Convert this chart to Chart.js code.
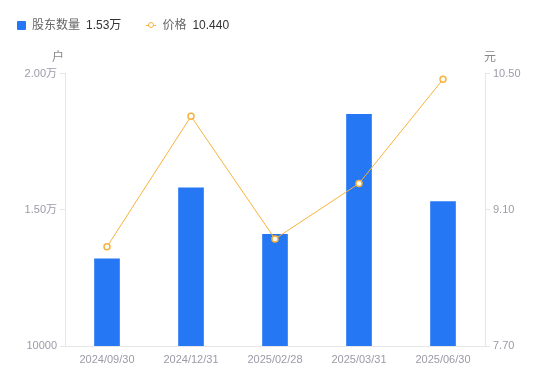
<!DOCTYPE html>
<html>
<head>
<meta charset="utf-8">
<script src="https://cdn.jsdelivr.net/npm/chart.js@4.4.1/dist/chart.umd.min.js"></script>
<style>
    html, body { margin: 0; padding: 0; background: #fff; }
    #wrap { position: relative; width: 550px; height: 381px; }
    #legend {
        position: absolute; left: 17px; top: 17px; height: 16px;
        display: flex; align-items: center;
        font: 12px/16px "Liberation Sans", "Noto Sans CJK SC", sans-serif;
    }
    .item { display: flex; align-items: center; height: 16px; margin-right: 25px; }
    .name, .val { display: block; height: 16px; line-height: 16px; }
    .name { color: #666; margin-right: 6px; }
    .val { color: #333; }
    .sq { width: 9px; height: 9px; background: #2677f4; border-radius: 1px; margin-right: 6px; }
    .ln { position: relative; width: 10px; height: 1px; background: #f7b23b; margin-right: 6px; }
    .ln::after {
        content: ''; position: absolute; left: 1.5px; top: -2.5px; width: 4px; height: 4px;
        border: 1.5px solid #f7b23b; border-radius: 50%; background: #fff;
    }
</style>
</head>
<body>
<div id="wrap">
    <div id="legend"></div>
    <canvas id="chart" width="550" height="381"></canvas>
</div>
<script>
// 数据
const dates = ['2024/09/30', '2024/12/31', '2025/02/28', '2025/03/31', '2025/06/30'];
const holders = [13200, 15800, 14100, 18500, 15300];
const prices = [8.72, 10.06, 8.80, 9.37, 10.44];
const leftTicks = [10000, 15000, 20000];
const rightTicks = [7.70, 9.10, 10.50];

const FONT = '"Liberation Sans", "Noto Sans CJK SC", sans-serif';
const TICK_COLOR = '#9b9ba8';
const LINE_COLOR = '#e6e6e6';

function fmtHolders(v) {
    if (v < 15000) return String(v);
    return (v / 10000).toFixed(2) + '万';
}

// 图例
document.getElementById('legend').innerHTML =
    '<div class="item"><span class="sq"></span><span class="name">股东数量</span>' +
    '<span class="val">' + fmtHolders(holders[holders.length - 1]) + '</span></div>' +
    '<div class="item"><span class="ln"></span><span class="name">价格</span>' +
    '<span class="val">' + prices[prices.length - 1].toFixed(3) + '</span></div>';

// 单位文字
const unitPlugin = {
    id: 'units',
    afterDraw(chart) {
        const ctx = chart.ctx;
        const yl = chart.scales.y;
        const yr = chart.scales.y1;
        ctx.save();
        ctx.font = '12px ' + FONT;
        ctx.fillStyle = '#888';
        ctx.textBaseline = 'middle';
        ctx.textAlign = 'center';
        ctx.fillText('户', yl.right - 7, yl.top - 16);
        ctx.fillText('元', yr.left + 5, yr.top - 16);
        ctx.restore();
    }
};

new Chart(document.getElementById('chart'), {
    type: 'bar',
    data: {
        labels: dates,
        datasets: [
            {
                type: 'line',
                label: '价格',
                data: prices,
                yAxisID: 'y1',
                borderColor: '#f7b23b',
                borderWidth: 1,
                pointRadius: 3,
                pointBorderWidth: 1.5,
                pointBackgroundColor: '#fff',
                pointBorderColor: '#f7b23b',
                tension: 0,
                order: 0
            },
            {
                type: 'bar',
                label: '股东数量',
                data: holders,
                yAxisID: 'y',
                backgroundColor: '#2677f4',
                barThickness: 25,
                order: 1
            }
        ]
    },
    options: {
        responsive: false,
        animation: false,
        layout: { padding: { top: 73.5, left: 0, right: 0, bottom: 0 } },
        plugins: {
            legend: { display: false },
            tooltip: { enabled: false }
        },
        scales: {
            x: {
                grid: { display: true, drawOnChartArea: false, drawTicks: false },
                border: { display: true, color: LINE_COLOR },
                ticks: { color: TICK_COLOR, font: { size: 11, family: FONT }, padding: 7, maxRotation: 0 },
                afterFit(scale) { scale.height = 35; }
            },
            y: {
                position: 'left',
                min: 10000,
                max: 20000,
                grid: { drawOnChartArea: false, drawTicks: true, tickLength: 5, color: LINE_COLOR },
                border: { display: true, color: LINE_COLOR },
                ticks: {
                    color: TICK_COLOR,
                    font: { size: 11, family: FONT },
                    padding: 3,
                    callback: v => fmtHolders(v)
                },
                afterBuildTicks(scale) { scale.ticks = leftTicks.map(v => ({ value: v })); },
                afterFit(scale) { scale.width = 65; }
            },
            y1: {
                position: 'right',
                min: 7.7,
                max: 10.5,
                grid: { drawOnChartArea: false, drawTicks: true, tickLength: 5, color: LINE_COLOR },
                border: { display: true, color: LINE_COLOR },
                ticks: {
                    color: TICK_COLOR,
                    font: { size: 11, family: FONT },
                    padding: 3,
                    callback: v => Number(v).toFixed(2)
                },
                afterBuildTicks(scale) { scale.ticks = rightTicks.map(v => ({ value: v })); },
                afterFit(scale) { scale.width = 65; }
            }
        }
    },
    plugins: [unitPlugin]
});
</script>
</body>
</html>
